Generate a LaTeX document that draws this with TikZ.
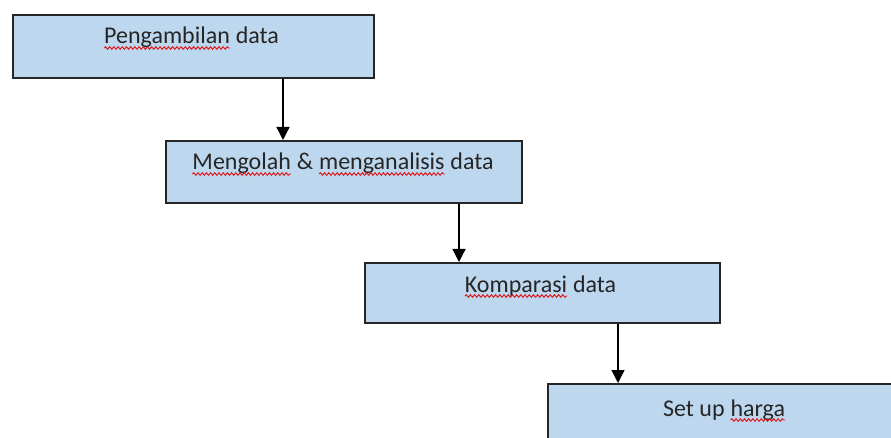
\documentclass[tikz,border=0pt]{standalone}
\usepackage{fontspec}
\setmainfont{Carlito}
\usetikzlibrary{arrows.meta,decorations.pathmorphing}
\definecolor{boxfill}{HTML}{BDD7EE}
\definecolor{txt}{HTML}{262626}
\definecolor{squigred}{HTML}{E01010}
\newcommand\squig[1]{\tikz[baseline=(w.base)]{\node[inner sep=0pt,outer sep=0pt,anchor=base](w){#1};\draw[squigred,line width=0.9pt,decorate,decoration={snake,amplitude=1.3pt,segment length=4.2pt}]([yshift=-4pt]w.base west)--([yshift=-4pt]w.base east);}}
\begin{document}
\begin{tikzpicture}[x=1pt,y=-1pt,
  stepbox/.style={draw=black!85,line width=1.6pt,fill=boxfill,anchor=north west,inner sep=0pt},
  label text/.style={anchor=base,inner sep=0pt,text=txt,font=\fontsize{24}{28}\selectfont},
  arr/.style={draw=black,line width=1.3pt,-{Triangle[width=13pt,length=13pt]}}]
\useasboundingbox (0,0) rectangle (891,438);
\clip (0,0) rectangle (891,438);
\node[stepbox,minimum width=361pt,minimum height=63pt] (b1) at (12,14) {};
\node[stepbox,minimum width=356pt,minimum height=62pt] (b2) at (165,140) {};
\node[stepbox,minimum width=355pt,minimum height=60pt] (b3) at (364,262) {};
\node[stepbox,minimum width=355pt,minimum height=62pt] (b4) at (547,383) {};
\node[label text] (t1) at ([xshift=-2pt,yshift=-30pt]b1.north) {\squig{Pengambilan} data};
\node[label text] (t2) at ([xshift=-1pt,yshift=-30pt]b2.north) {\squig{Mengolah} \& \squig{menganalisis} data};
\node[label text] (t3) at ([xshift=-2pt,yshift=-30pt]b3.north) {\squig{Komparasi} data};
\node[label text] (t4) at ([xshift=-1pt,yshift=-33pt]b4.north) {Set up \squig{harga}};
\draw[arr] (b1.south -| 283,0) -- (b2.north -| 283,0);
\draw[arr] (b2.south -| 459,0) -- (b3.north -| 459,0);
\draw[arr] (b3.south -| 618,0) -- (b4.north -| 618,0);
\end{tikzpicture}
\end{document}
